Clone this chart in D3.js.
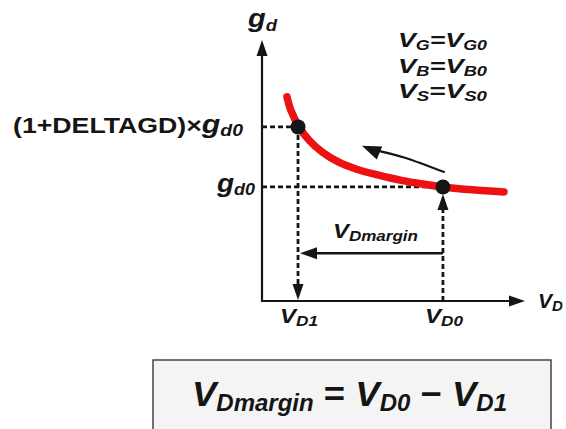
<!DOCTYPE html>
<html>
<head>
<meta charset="utf-8">
<script src="https://cdn.jsdelivr.net/npm/d3@7"></script>
<style>
  body { margin: 0; background: #fff; }
  svg { display: block; font-family: "Liberation Sans", Arial, sans-serif; font-weight: bold; }
</style>
</head>
<body>
<div id="chart"></div>
<script>
// drain voltage (x) and conductance (y), arbitrary units 0..10
const curveVd = [0.95, 1.10, 1.41, 1.80, 2.30, 2.90, 3.60, 4.40, 5.30, 6.10, 6.88, 8.00, 9.20];
const curveGd = [7.82, 7.30, 6.67, 6.15, 5.70, 5.33, 5.05, 4.83, 4.62, 4.48, 4.37, 4.26, 4.18];
const VD1 = 1.37;
const VD0 = 6.88;
const GD0 = 4.37;
const GD1 = 6.67;
const biasLines = [['G', 'G0'], ['B', 'B0'], ['S', 'S0']];
// the curved "move along the curve" arrow, from VD0 side up towards VD1
const moveArrow = [[6.95, 4.93], [5.4, 5.5], [4.2, 5.80]];
const arrowTip = [3.80, 5.95];

const width = 566, height = 429;
const ink = '#151515';
const svg = d3.select('#chart').append('svg')
  .attr('width', width).attr('height', height);

const x = d3.scaleLinear().domain([0, 10]).range([262, 525]);
const y = d3.scaleLinear().domain([0, 10]).range([301, 40]);

// filled triangle arrow head at tip, pointing along (dx,dy)
function head(g, tx, ty, dx, dy, len, wid) {
  const n = Math.hypot(dx, dy); dx /= n; dy /= n;
  const bx = tx - dx * len, by = ty - dy * len;
  const px = -dy * wid / 2, py = dx * wid / 2;
  g.append('path')
    .attr('d', `M${tx},${ty}L${bx + px},${by + py}L${bx - px},${by - py}Z`)
    .attr('fill', ink);
}

const axes = svg.append('g').attr('class', 'axes');
axes.append('path')
  .attr('d', `M${x(0)},${y(9.6)}L${x(0)},${y(0)}L${x(9.6)},${y(0)}`)
  .attr('fill', 'none').attr('stroke', ink).attr('stroke-width', 2.2);
head(axes, x(0), y(10), 0, -1, 16, 11);
head(axes, x(10), y(0), 1, 0, 16, 11);

// dashed guides
const guides = svg.append('g').attr('class', 'guides')
  .attr('stroke', ink).attr('stroke-width', 2.8).attr('stroke-dasharray', '5,3').attr('fill', 'none');
guides.append('line').attr('x1', x(0)).attr('x2', x(VD0)).attr('y1', y(GD0)).attr('y2', y(GD0));
guides.append('line').attr('x1', x(0)).attr('x2', x(VD1)).attr('y1', y(GD1)).attr('y2', y(GD1));
guides.append('line').attr('x1', x(VD1)).attr('x2', x(VD1)).attr('y1', y(GD1)).attr('y2', y(0) - 12);
guides.append('line').attr('x1', x(VD0)).attr('x2', x(VD0)).attr('y1', y(0)).attr('y2', y(GD0) + 14);
const heads = svg.append('g');
head(heads, x(VD1), y(0) - 1, 0, 1, 16, 11);
head(heads, x(VD0), y(GD0) + 7, 0, -1, 16, 11);

// margin arrow
heads.append('line')
  .attr('x1', x(VD0)).attr('x2', x(VD1) + 10)
  .attr('y1', y(1.83)).attr('y2', y(1.83))
  .attr('stroke', ink).attr('stroke-width', 2.5);
head(heads, x(VD1) + 2, y(1.83), -1, 0, 17, 12);

// red gd curve
const pts = curveVd.map((v, i) => [v, curveGd[i]]);
svg.append('path')
  .datum(pts)
  .attr('d', d3.line().x(d => x(d[0])).y(d => y(d[1])).curve(d3.curveCatmullRom))
  .attr('fill', 'none').attr('stroke', '#ee1111').attr('stroke-width', 7.5)
  .attr('stroke-linecap', 'round');

// curved arrow
svg.append('path')
  .datum(moveArrow)
  .attr('d', d3.line().x(d => x(d[0])).y(d => y(d[1])).curve(d3.curveNatural))
  .attr('fill', 'none').attr('stroke', ink).attr('stroke-width', 2.2);
head(heads, x(arrowTip[0]), y(arrowTip[1]), -1.0, -0.42, 19, 14);

// points
svg.selectAll('circle.pt')
  .data([[VD1, GD1], [VD0, GD0]])
  .join('circle')
  .attr('class', 'pt')
  .attr('cx', d => x(d[0])).attr('cy', d => y(d[1]))
  .attr('r', 7.5).attr('fill', ink);

// text helper: main + subscript, stretched to the measured width
function sub(g, px, py, main, s, size, subSize, len) {
  const t = g.append('text').attr('x', px).attr('y', py)
    .attr('font-size', size).attr('font-style', 'italic').attr('fill', ink);
  t.append('tspan').text(main);
  t.append('tspan').attr('font-size', subSize).attr('dy', size * 0.14).text(s);
  if (len) t.attr('textLength', len).attr('lengthAdjust', 'spacingAndGlyphs');
  return t;
}

const labels = svg.append('g').attr('class', 'labels');
sub(labels, 248, 27, 'g', 'd', 25, 16, 29);
biasLines.forEach((b, i) => {
  const t = labels.append('text').attr('x', 398).attr('y', 47 + i * 25.5)
    .attr('font-size', 21).attr('font-style', 'italic').attr('fill', ink)
    .attr('textLength', 89).attr('lengthAdjust', 'spacingAndGlyphs');
  t.append('tspan').text('V');
  t.append('tspan').attr('font-size', 14).attr('dy', 3).text(b[0]);
  t.append('tspan').attr('dy', -3).text('=V');
  t.append('tspan').attr('font-size', 14).attr('dy', 3).text(b[1]);
});

const t1 = labels.append('text').attr('x', 13).attr('y', y(GD1) + 6)
  .attr('font-size', 22).attr('fill', ink)
  .attr('textLength', 230).attr('lengthAdjust', 'spacingAndGlyphs');
t1.append('tspan').text('(1+DELTAGD)×');
t1.append('tspan').attr('font-style', 'italic').attr('font-size', 25).text('g');
t1.append('tspan').attr('font-style', 'italic').attr('font-size', 16).attr('dy', 3).text('d0');

sub(labels, 217, y(GD0) + 5, 'g', 'd0', 25, 16, 38);

sub(labels, 333, 238, 'V', 'Dmargin', 21, 15, 85);
sub(labels, x(VD1) - 18, 323, 'V', 'D1', 21, 15, 38);
sub(labels, x(VD0) - 18, 323, 'V', 'D0', 21, 15, 38);
sub(labels, 538, 308, 'V', 'D', 21, 15);

// equation box
const box = svg.append('g').attr('class', 'eq');
box.append('rect')
  .attr('x', 153).attr('y', 360).attr('width', 398).attr('height', 90)
  .attr('fill', '#f4f4f4').attr('stroke', '#444').attr('stroke-width', 1.5);
const eq = box.append('text').attr('x', 192).attr('y', 406)
  .attr('font-size', 35).attr('font-style', 'italic').attr('fill', ink)
  .attr('textLength', 315).attr('lengthAdjust', 'spacingAndGlyphs');
eq.append('tspan').text('V');
eq.append('tspan').attr('font-size', 23).attr('dy', 5).text('Dmargin');
eq.append('tspan').attr('dy', -5).attr('font-style', 'normal').text(' = ');
eq.append('tspan').text('V');
eq.append('tspan').attr('font-size', 23).attr('dy', 5).text('D0');
eq.append('tspan').attr('dy', -5).attr('font-style', 'normal').text(' − ');
eq.append('tspan').text('V');
eq.append('tspan').attr('font-size', 23).attr('dy', 5).text('D1');
</script>
</body>
</html>
